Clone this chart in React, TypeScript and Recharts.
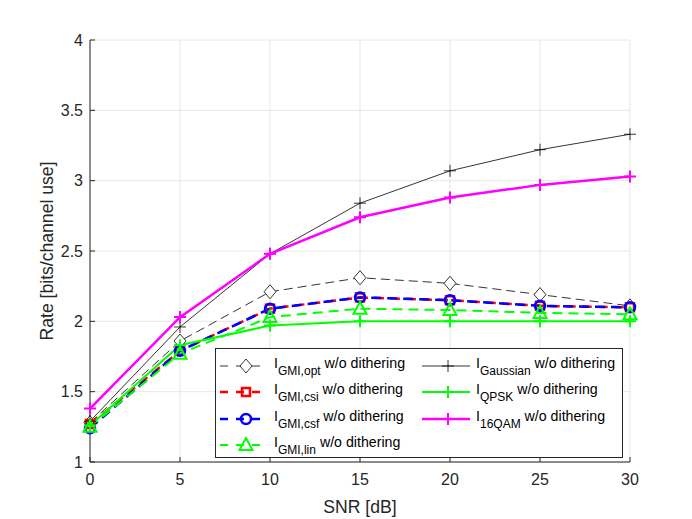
import { LineChart, Line, XAxis, YAxis, CartesianGrid, Legend, Label } from 'recharts';

const snr = [0, 5, 10, 15, 20, 25, 30];
const gmiOpt = [1.28, 1.86, 2.21, 2.31, 2.27, 2.19, 2.11];
const gmiCsi = [1.27, 1.79, 2.09, 2.17, 2.15, 2.11, 2.1];
const gmiCsf = [1.24, 1.79, 2.09, 2.17, 2.15, 2.11, 2.1];
const gmiLin = [1.25, 1.77, 2.03, 2.09, 2.08, 2.06, 2.05];
const gaussian = [1.29, 1.96, 2.48, 2.84, 3.07, 3.22, 3.33];
const qpsk = [1.26, 1.83, 1.97, 2.0, 2.0, 2.0, 2.0];
const qam16 = [1.38, 2.03, 2.48, 2.74, 2.88, 2.97, 3.03];

const xTicks = [0, 5, 10, 15, 20, 25, 30];
const yTicks = [1, 1.5, 2, 2.5, 3, 3.5, 4];

const data = snr.map((s, i) => ({
  snr: s,
  opt: gmiOpt[i],
  csi: gmiCsi[i],
  csf: gmiCsf[i],
  lin: gmiLin[i],
  gauss: gaussian[i],
  qpsk: qpsk[i],
  qam: qam16[i],
}));

type Shape = 'diamond' | 'square' | 'circle' | 'triangle' | 'plus';

const Marker = ({ shape, x, y, color, sw }: { shape: Shape; x: number; y: number; color: string; sw: number }) => {
  if (shape === 'diamond')
    return <path d={`M${x},${y - 7}L${x + 6},${y}L${x},${y + 7}L${x - 6},${y}Z`} fill="#fff" stroke={color} strokeWidth={sw} />;
  if (shape === 'square')
    return <rect x={x - 4} y={y - 4} width={8} height={8} fill="none" stroke={color} strokeWidth={sw} />;
  if (shape === 'circle') return <circle cx={x} cy={y} r={5} fill="none" stroke={color} strokeWidth={sw} />;
  if (shape === 'triangle')
    return <path d={`M${x},${y - 7}L${x + 6.5},${y + 5}L${x - 6.5},${y + 5}Z`} fill="none" stroke={color} strokeWidth={sw} />;
  return <path d={`M${x - 6},${y}H${x + 6}M${x},${y - 6}V${y + 6}`} stroke={color} strokeWidth={sw} />;
};

const dotFor = (shape: Shape, color: string, sw: number) => (p: any) =>
  <Marker key={p.index} shape={shape} x={p.cx} y={p.cy} color={color} sw={sw} />;

interface Series {
  key: string;
  sub: string;
  color: string;
  width: number;
  dash?: string;
  shape: Shape;
  msw: number;
}

const series: Series[] = [
  { key: 'opt', sub: 'GMI,opt', color: '#000', width: 0.8, dash: '9 5', shape: 'diamond', msw: 0.8 },
  { key: 'csi', sub: 'GMI,csi', color: '#ff0000', width: 2.5, dash: '10 6', shape: 'square', msw: 2.5 },
  { key: 'csf', sub: 'GMI,csf', color: '#0000ff', width: 2.5, dash: '10 6', shape: 'circle', msw: 2.5 },
  { key: 'lin', sub: 'GMI,lin', color: '#00ff00', width: 2, dash: '10 6', shape: 'triangle', msw: 2 },
  { key: 'gauss', sub: 'Gaussian', color: '#000', width: 0.8, shape: 'plus', msw: 0.8 },
  { key: 'qpsk', sub: 'QPSK', color: '#00ff00', width: 2, shape: 'plus', msw: 2 },
  { key: 'qam', sub: '16QAM', color: '#ff00ff', width: 2.5, shape: 'plus', msw: 2 },
];

const LegendItem = ({ s }: { s: Series }) => (
  <div style={{ display: 'flex', alignItems: 'center', height: 26.3 }}>
    <svg width={52} height={20} style={{ flex: 'none' }}>
      <line x1={2} y1={10} x2={50} y2={10} stroke={s.color} strokeWidth={s.width} strokeDasharray={s.dash ? '8 8' : undefined} />
      <Marker shape={s.shape} x={28} y={10} color={s.color} sw={s.msw} />
    </svg>
    <span style={{ marginLeft: 4, whiteSpace: 'nowrap', position: 'relative', top: -3 }}>
      I<span style={{ fontSize: 12, position: 'relative', top: 7 }}>{s.sub}</span> w/o dithering
    </span>
  </div>
);

const LegendBox = () => (
  <div
    style={{
      position: 'absolute', left: 215, top: 348, width: 408, height: 110,
      border: '1px solid #262626', background: '#fff', display: 'flex',
      fontFamily: '"Liberation Sans", Arial, sans-serif', fontSize: 14.2, color: '#000',
      boxSizing: 'border-box', padding: '4px 0 0 2px',
    }}
  >
    <div style={{ width: 202 }}>
      {series.slice(0, 4).map((s) => <LegendItem key={s.key} s={s} />)}
    </div>
    <div>
      {series.slice(4).map((s) => <LegendItem key={s.key} s={s} />)}
    </div>
  </div>
);

const tickStyle = { fontSize: 16, fill: '#262626' };

export default function App() {
  return (
    <div style={{ fontFamily: '"Liberation Sans", Arial, sans-serif', position: 'relative', width: 692, height: 519 }}>
      <style>{'body{margin:0}'}</style>
      <LineChart width={692} height={519} data={data} margin={{ top: 40, right: 62, left: 40, bottom: 27 }}>
        <CartesianGrid stroke="#e6e6e6" strokeWidth={1} />
        <XAxis
          dataKey="snr" type="number" domain={[0, 30]} ticks={xTicks} height={30}
          stroke="#262626" tick={tickStyle} tickSize={-5} tickMargin={17}
        >
          <Label value="SNR [dB]" position="bottom" offset={9} style={{ fontSize: 17.6, fill: '#262626' }} />
        </XAxis>
        <XAxis xAxisId="top" orientation="top" dataKey="snr" type="number" domain={[0, 30]} ticks={xTicks}
          height={0} stroke="#262626" tick={false} tickSize={-5} />
        <YAxis
          type="number" domain={[1, 4]} ticks={yTicks} width={50}
          stroke="#262626" tick={tickStyle} tickSize={-5} tickMargin={12}
        >
          <Label value="Rate [bits/channel use]" angle={-90} position="insideLeft" offset={7}
            style={{ fontSize: 17.6, fill: '#262626', textAnchor: 'middle' }} />
        </YAxis>
        <YAxis yAxisId="right" orientation="right" type="number" domain={[1, 4]} ticks={yTicks} width={0}
          stroke="#262626" tick={false} tickSize={-5} />
        {series.map((s) => (
          <Line
            key={s.key}
            dataKey={s.key}
            stroke={s.color}
            strokeWidth={s.width}
            strokeDasharray={s.dash}
            dot={dotFor(s.shape, s.color, s.msw)}
            activeDot={false}
            isAnimationActive={false}
          />
        ))}
        <Legend content={() => null} />
      </LineChart>
      <LegendBox />
    </div>
  );
}
